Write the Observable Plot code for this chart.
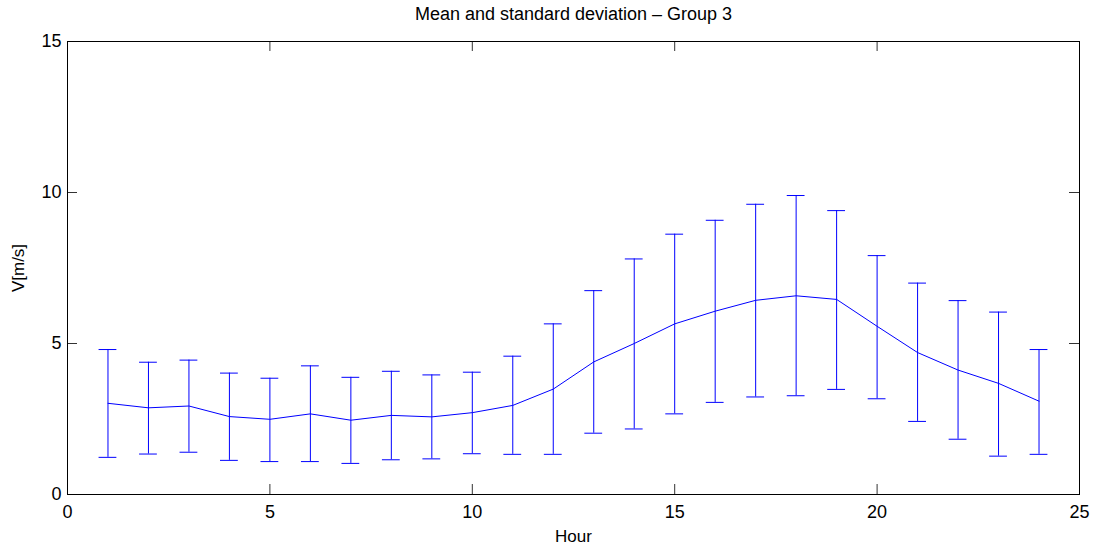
<!DOCTYPE html>
<html>
<head>
<meta charset="utf-8">
<script src="https://cdn.jsdelivr.net/npm/d3@7"></script>
<script src="https://cdn.jsdelivr.net/npm/@observablehq/plot@0.6"></script>
<style>
  html, body { margin: 0; padding: 0; background: white; }
</style>
</head>
<body>
<div id="chart"></div>
<script>
const hours = [1,2,3,4,5,6,7,8,9,10,11,12,13,14,15,16,17,18,19,20,21,22,23,24];
const means = [3.02,2.87,2.93,2.58,2.49,2.67,2.46,2.62,2.57,2.71,2.95,3.49,4.39,5.00,5.65,6.07,6.43,6.58,6.46,5.57,4.70,4.12,3.68,3.09];
const upper = [4.80,4.38,4.45,4.02,3.85,4.26,3.88,4.08,3.96,4.05,4.58,5.65,6.75,7.80,8.62,9.08,9.61,9.90,9.40,7.91,7.00,6.42,6.04,4.80];
const lower = [1.23,1.34,1.40,1.13,1.09,1.09,1.03,1.15,1.18,1.35,1.33,1.33,2.03,2.17,2.67,3.05,3.23,3.27,3.48,3.17,2.42,1.83,1.27,1.33];
const xTicks = [0,5,10,15,20,25];
const yTicks = [0,5,10,15];
const title = "Mean and standard deviation – Group 3";
const xLabel = "Hour";
const yLabel = "V[m/s]";

const data = hours.map((h, i) => ({hour: h, mean: means[i], hi: upper[i], lo: lower[i]}));

const W = 1100, H = 548, mL = 67, mR = 21, mT = 41, mB = 54;
const iW = W - mL - mR, iH = H - mT - mB;
const tickLen = 10;
const capHalf = 0.22;
const blue = "#0000ff";

const chart = Plot.plot({
  width: W, height: H,
  marginLeft: mL, marginRight: mR, marginTop: mT, marginBottom: mB,
  style: {fontFamily: "'Liberation Sans', Arial, sans-serif", fontSize: "18px", background: "white", color: "black"},
  x: {domain: [0, 25]},
  y: {domain: [0, 15]},
  marks: [
    Plot.axisX({ticks: xTicks, tickSize: 0, tickPadding: 11, label: null, fontSize: 18}),
    Plot.axisY({ticks: yTicks, tickSize: 0, tickPadding: 6, label: null, fontSize: 18}),
    Plot.tickX(xTicks, {x: d => d, insetTop: iH - tickLen, stroke: "#333"}),
    Plot.tickX(xTicks, {x: d => d, insetBottom: iH - tickLen, stroke: "#333"}),
    Plot.tickY(yTicks, {y: d => d, insetRight: iW - tickLen, stroke: "#333"}),
    Plot.tickY(yTicks, {y: d => d, insetLeft: iW - tickLen, stroke: "#333"}),
    Plot.ruleX(data, {x: "hour", y1: "lo", y2: "hi", stroke: blue, strokeWidth: 1}),
    Plot.ruleY(data, {y: "hi", x1: d => d.hour - capHalf, x2: d => d.hour + capHalf, stroke: blue, strokeWidth: 1}),
    Plot.ruleY(data, {y: "lo", x1: d => d.hour - capHalf, x2: d => d.hour + capHalf, stroke: blue, strokeWidth: 1}),
    Plot.line(data, {x: "hour", y: "mean", stroke: blue, strokeWidth: 1}),
    Plot.frame({stroke: "black", strokeWidth: 1}),
    Plot.text([title], {frameAnchor: "top", dy: -34, fontSize: 18}),
    Plot.text([xLabel], {frameAnchor: "bottom", dy: 47, fontSize: 17}),
    Plot.text([yLabel], {frameAnchor: "left", dx: -49, rotate: -90, textAnchor: "middle", fontSize: 17})
  ]
});
document.getElementById("chart").appendChild(chart);
</script>
</body>
</html>
